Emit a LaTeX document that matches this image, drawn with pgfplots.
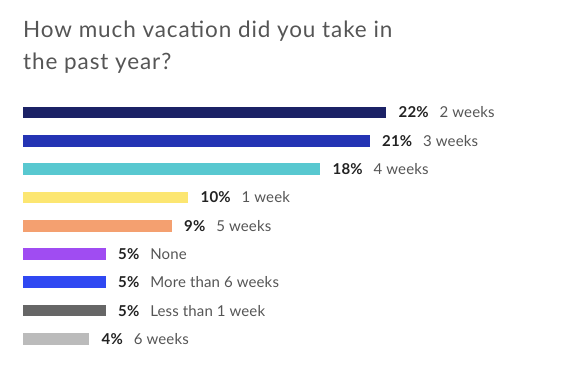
\documentclass[border=0pt]{standalone}
\usepackage{pgfplots}
\pgfplotsset{compat=1.18}
\usepackage{fontspec}
\setmainfont{Lato}
\newfontfamily\titlefont[LetterSpace=4]{Lato}
\newfontfamily\labelfont[LetterSpace=1]{Lato}
\definecolor{cA}{HTML}{1B2266}
\definecolor{cB}{HTML}{2434B4}
\definecolor{cC}{HTML}{58C8D0}
\definecolor{cD}{HTML}{FCE671}
\definecolor{cE}{HTML}{F4A070}
\definecolor{cF}{HTML}{A04CF2}
\definecolor{cG}{HTML}{2F48F2}
\definecolor{cH}{HTML}{666666}
\definecolor{cI}{HTML}{BBBBBB}
\definecolor{titlegray}{HTML}{555555}
\definecolor{labelgray}{HTML}{555555}
\definecolor{pctblack}{HTML}{222222}
\newcommand{\lab}[2]{{\color{pctblack}\bfseries #1}\hspace{11pt}#2}
\begin{document}
\begin{tikzpicture}[x=1pt,y=1pt]
\useasboundingbox (0,0) rectangle (575,-368);
\node[anchor=base west, inner sep=0, text=titlegray, font=\titlefont\fontsize{22.5}{25}\selectfont] at (23,-37.7) {How much vacation did you take in};
\node[anchor=base west, inner sep=0, text=titlegray, font=\titlefont\fontsize{22.5}{25}\selectfont] at (23,-69.7) {the past year?};
\begin{axis}[
  at={(23pt,-98.35pt)}, anchor=north west,
  scale only axis, width=363pt, height=254.7pt,
  xmin=0, xmax=22, ymin=-0.5, ymax=8.5, y dir=reverse,
  axis lines=none, clip=false,
  xbar, bar width=11.7pt, bar shift=0pt,
  nodes near coords, point meta=explicit symbolic,
  every node near coord/.append style={anchor=west, inner sep=0pt, xshift=12.5pt,
    font=\labelfont\fontsize{15}{17}\selectfont, text=labelgray},
]
\addplot[draw=none, fill=cA] coordinates {(22,0) [\lab{22\%}{2 weeks}]};
\addplot[draw=none, fill=cB] coordinates {(21,1) [\lab{21\%}{3 weeks}]};
\addplot[draw=none, fill=cC] coordinates {(18,2) [\lab{18\%}{4 weeks}]};
\addplot[draw=none, fill=cD] coordinates {(10,3) [\lab{10\%}{1 week}]};
\addplot[draw=none, fill=cE] coordinates {(9,4) [\lab{9\%}{5 weeks}]};
\addplot[draw=none, fill=cF] coordinates {(5,5) [\lab{5\%}{None}]};
\addplot[draw=none, fill=cG] coordinates {(5,6) [\lab{5\%}{More than 6 weeks}]};
\addplot[draw=none, fill=cH] coordinates {(5,7) [\lab{5\%}{Less than 1 week}]};
\addplot[draw=none, fill=cI] coordinates {(4,8) [\lab{4\%}{6 weeks}]};
\end{axis}
\end{tikzpicture}
\end{document}
